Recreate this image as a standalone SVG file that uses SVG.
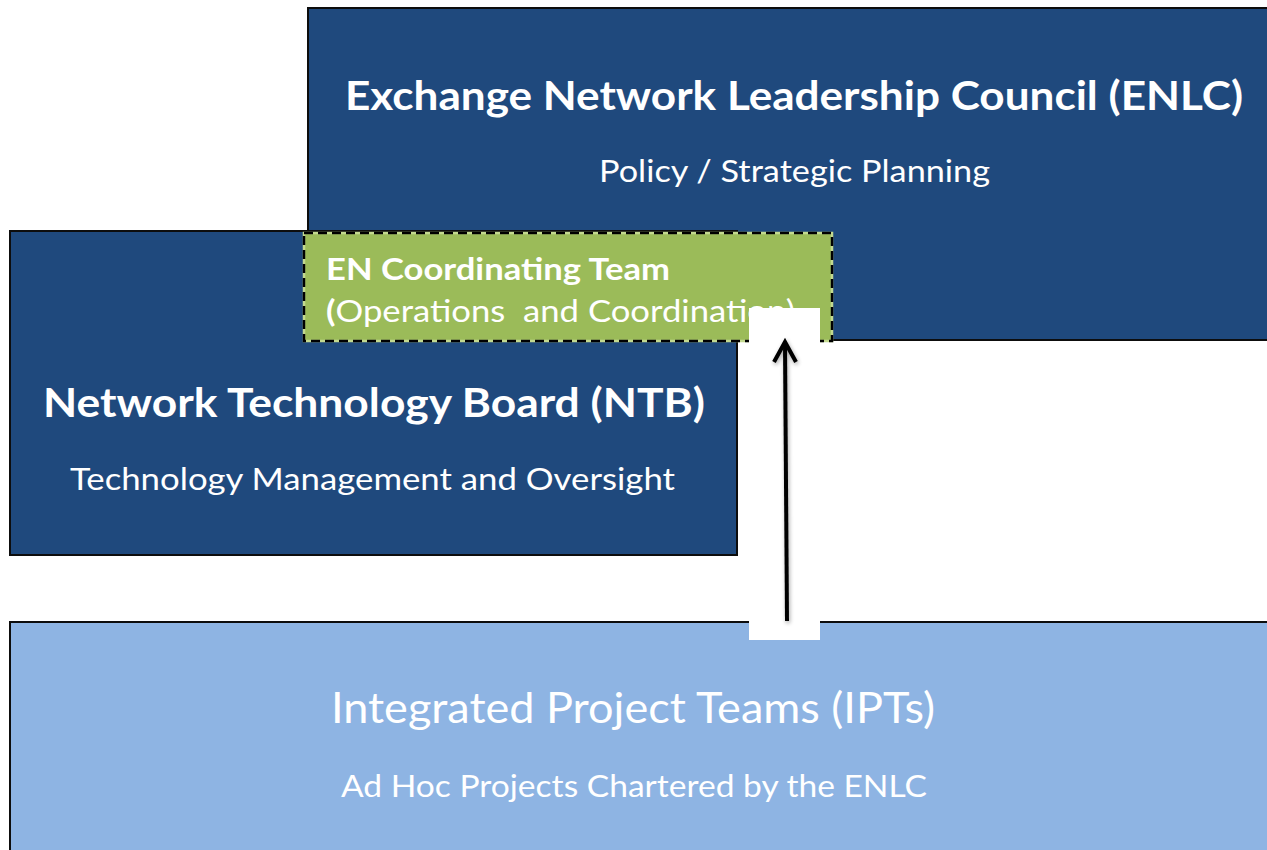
<svg xmlns="http://www.w3.org/2000/svg" width="1267" height="850" viewBox="0 0 1267 850">
  <style>
    .box { stroke: #0d0d0d; stroke-width: 2; }
    .dark { fill: #1f497d; }
    .light { fill: #8eb4e3; }
    .t { fill: #ffffff; font-family: Lato, "Open Sans", "Liberation Sans", sans-serif; }
    .b { font-weight: 700; }
    .r { font-weight: 400; }
    .arrow { fill: none; stroke: #000; stroke-width: 4; }
  </style>
  <defs>
    <filter id="soft" filterUnits="userSpaceOnUse" x="740" y="320" width="90" height="320">
      <feGaussianBlur in="SourceAlpha" stdDeviation="2"/>
      <feOffset dx="1" dy="2" result="blur"/>
      <feComponentTransfer><feFuncA type="linear" slope="0.35"/></feComponentTransfer>
      <feMerge><feMergeNode/><feMergeNode in="SourceGraphic"/></feMerge>
    </filter>
  </defs>

  <rect width="1267" height="850" fill="#ffffff"/>

  <!-- Leadership council -->
  <g id="enlc">
    <rect class="box dark" x="308" y="8" width="1010" height="332"/>
    <text class="t b" x="345" y="110" font-size="41" textLength="898" lengthAdjust="spacingAndGlyphs">Exchange Network Leadership Council (ENLC)</text>
    <text class="t r" x="599" y="182" font-size="31" textLength="391" lengthAdjust="spacingAndGlyphs">Policy / Strategic Planning</text>
  </g>

  <!-- Technology board -->
  <g id="ntb">
    <rect class="box dark" x="10" y="231" width="727" height="324"/>
    <text class="t b" x="43" y="417" font-size="41" textLength="662" lengthAdjust="spacingAndGlyphs">Network Technology Board (NTB)</text>
    <text class="t r" x="70" y="490" font-size="30" textLength="605" lengthAdjust="spacingAndGlyphs">Technology Management and Oversight</text>
  </g>

  <!-- Project teams -->
  <g id="ipt">
    <rect class="box light" x="10" y="622" width="1310" height="300"/>
    <text class="t r" x="331" y="723" font-size="42" textLength="604" lengthAdjust="spacingAndGlyphs">Integrated Project Teams (IPTs)</text>
    <text class="t r" x="341" y="797" font-size="30" textLength="586" lengthAdjust="spacingAndGlyphs">Ad Hoc Projects Chartered by the ENLC</text>
  </g>

  <!-- Coordinating team -->
  <g id="coordinating-team">
    <rect x="304" y="233" width="528" height="108" fill="#9bbb59" stroke="#c3d98f" stroke-width="2.5"/>
    <rect x="304" y="233" width="528" height="108" fill="none" stroke="#000" stroke-width="2.5" stroke-dasharray="9 5"/>
    <text class="t b" x="326" y="280" font-size="30" textLength="344" lengthAdjust="spacingAndGlyphs">EN Coordinating Team</text>
    <text class="t r" x="326" y="322" font-size="30" textLength="469" lengthAdjust="spacingAndGlyphs" xml:space="preserve"><tspan class="b">(</tspan>Operations  and Coordination)</text>
  </g>

  <!-- Connectors -->
  <g id="connectors">
    <rect x="749" y="308" width="71" height="332" fill="#ffffff"/>
    <g filter="url(#soft)">
      <path class="arrow" d="M787,621 L785,344"/>
      <path class="arrow" d="M774,362 L785,342 L796,362"/>
    </g>
  </g>
</svg>
